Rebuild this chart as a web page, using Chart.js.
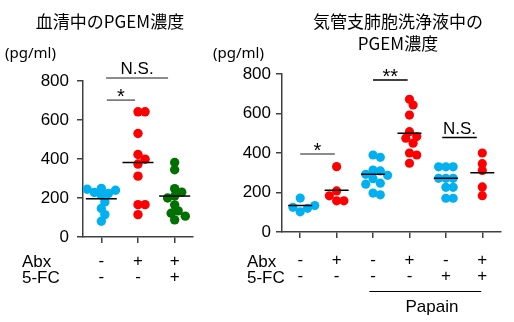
<!DOCTYPE html>
<html>
<head>
<meta charset="utf-8">
<script src="https://cdn.jsdelivr.net/npm/chart.js@4"></script>
<style>
body { margin: 0; background: #fff; width: 514px; height: 322px; position: relative; overflow: hidden; font-family: "Liberation Sans", Arial, sans-serif; }
canvas { position: absolute; top: 0; }
.t { position: absolute; white-space: nowrap; line-height: 1; color: #000; }
.jp { font-family: "Noto Sans CJK JP", sans-serif; font-size: 17px; }
.unit { font-family: "Noto Sans", sans-serif; font-size: 15px; }
.row { font-size: 17px; }
</style>
</head>
<body>
<canvas id="serum" width="210" height="322" style="left:0"></canvas>
<canvas id="balf" width="304" height="322" style="left:210px"></canvas>

<div class="t jp" style="left:0;width:220px;text-align:center;top:11.5px">血清中のPGEM濃度</div>
<div class="t jp" style="left:298px;width:200px;text-align:center;top:11.5px">気管支肺胞洗浄液中の</div>
<div class="t jp" style="left:298px;width:200px;text-align:center;top:33.5px">PGEM濃度</div>
<div class="t unit" style="left:5px;top:45px">(pg/ml)</div>
<div class="t unit" style="left:213px;top:45px">(pg/ml)</div>
<div class="t row" style="left:22px;top:252.5px">Abx</div>
<div class="t row" style="left:22px;top:268.5px">5-FC</div>
<div class="t row" style="left:247px;top:252.5px">Abx</div>
<div class="t row" style="left:247px;top:268.5px">5-FC</div>
<div class="t row" style="left:382px;width:100px;text-align:center;top:297.5px">Papain</div>

<script>
// serum PGEM (pg/ml)
const serumAbx = ['-', '+', '+'];
const serumFC = ['-', '-', '+'];
const serumValues = [
    [81, 115, 146, 180, 214, 223, 228, 240, 245, 249],
    [642, 642, 531, 423, 399, 374, 312, 166, 166, 115],
    [382, 345, 248, 230, 210, 200, 165, 134, 122, 107, 88]
];
const serumMeans = [196, 382, 210];
// [from, to, level, label]
const serumSig = [
    [0.15, 0.92, 702, '*'],
    [0.13, 1.82, 815, 'N.S.']
];

// BALF PGEM (pg/ml)
const balfAbx = ['-', '+', '-', '+', '-', '+'];
const balfFC = ['-', '-', '-', '-', '+', '+'];
const balfValues = [
    [102, 120, 125, 134, 172],
    [158, 158, 183, 208, 331],
    [390, 378, 314, 309, 292, 287, 270, 247, 242, 197, 188],
    [672, 643, 592, 508, 483, 475, 450, 400, 390, 348],
    [330, 330, 330, 272, 272, 272, 226, 226, 171, 171],
    [400, 346, 312, 228, 184]
];
const balfMeans = [134, 212, 292, 500, 272, 300];
const balfSig = [
    [0.0, 0.95, 395, '*'],
    [2.0, 2.95, 769, '**'],
    [3.9, 4.85, 478, 'N.S.']
];
const papainSpan = [1.9, 4.97];

const BLUE = '#00b0f0', RED = '#ff0000', GREEN = '#007000';
const AXIS = '#404040';

// simple beeswarm: horizontal offsets so dots don't pile up
function swarm(vals, yPx, catPx, r) {
    const placed = [];
    return vals.map(v => {
        const y = v * yPx;
        for (let k = 0; ; k++) {
            const dx = (k % 2 ? 1 : -1) * Math.ceil(k / 2) * r * 0.8;
            if (placed.every(p => Math.hypot(p[0] - dx, p[1] - y) >= r * 1.45)) {
                placed.push([dx, y]);
                return dx / catPx;
            }
        }
    });
}

function build(id, abx, fc, values, means, colors, sig, sigColors, o, extra) {
    const datasets = [{
        data: means.map((m, i) => ({ x: i, y: m })),
        pointStyle: 'line', pointRadius: o.meanHalf,
        pointBorderColor: '#000', pointBorderWidth: 1.5, pointBackgroundColor: '#000'
    }];
    values.forEach((vals, i) => {
        const off = swarm(vals, o.yPx, o.catPx, o.r);
        datasets.push({
            data: vals.map((v, j) => ({ x: i + off[j], y: v })),
            pointBackgroundColor: colors[i], pointBorderWidth: 0, pointRadius: o.r
        });
    });

    new Chart(document.getElementById(id), {
        type: 'scatter',
        data: { datasets },
        options: {
            responsive: false,
            animation: false,
            events: [],
            plugins: { legend: { display: false }, tooltip: { enabled: false } },
            layout: { padding: { top: o.top, right: o.right, left: 0, bottom: 0 } },
            scales: {
                x: {
                    type: 'linear', min: -0.5, max: abx.length - 0.5,
                    afterBuildTicks: s => { s.ticks = abx.map((_, i) => ({ value: i })); },
                    afterFit: s => { s.height = o.xh; },
                    ticks: {
                        callback: v => [abx[v], fc[v]],
                        font: { family: 'Liberation Sans', size: 17, lineHeight: '16px' },
                        color: '#000', padding: o.xpad, maxRotation: 0, autoSkip: false
                    },
                    grid: { drawOnChartArea: false, tickLength: 6, color: AXIS, lineWidth: 1.5 },
                    border: { color: AXIS, width: 1.5 }
                },
                y: {
                    min: 0, max: 800,
                    afterFit: s => { s.width = o.yw; },
                    ticks: { stepSize: 200, font: { family: 'Liberation Sans', size: 17 }, color: '#000', padding: o.ypad },
                    grid: { drawOnChartArea: false, tickLength: 6, color: AXIS, lineWidth: 1.5 },
                    border: { color: AXIS, width: 1.5 }
                }
            }
        },
        plugins: [{
            id: 'sig',
            afterDraw(chart) {
                const { ctx, scales: { x, y } } = chart;
                ctx.save();
                sig.forEach(([a, b, lv, label], i) => {
                    const x1 = x.getPixelForValue(a), x2 = x.getPixelForValue(b);
                    const yy = y.getPixelForValue(lv);
                    ctx.strokeStyle = sigColors[i];
                    ctx.lineWidth = 1.5;
                    ctx.beginPath();
                    ctx.moveTo(x1, yy);
                    ctx.lineTo(x2, yy);
                    ctx.stroke();
                    ctx.fillStyle = '#000';
                    ctx.textAlign = 'center';
                    ctx.textBaseline = 'alphabetic';
                    if (label.startsWith('*')) {
                        ctx.font = '20px "Liberation Sans"';
                        ctx.fillText(label, (x1 + x2) / 2, yy + 3);
                    } else {
                        ctx.font = '17px "Liberation Sans"';
                        ctx.fillText(label, (x1 + x2) / 2, yy - 4);
                    }
                });
                if (extra) extra(chart);
                ctx.restore();
            }
        }]
    });
}

build('serum', serumAbx, serumFC, serumValues, serumMeans,
    [BLUE, RED, GREEN], serumSig, ['#666', '#666'],
    { top: 81, right: 10, yw: 83, xh: 85, xpad: 10, ypad: 8, yPx: 0.195, catPx: 39, r: 4.7, meanHalf: 15.5 });

build('balf', balfAbx, balfFC, balfValues, balfMeans,
    [BLUE, RED, BLUE, RED, BLUE, RED], balfSig, ['#666', '#000', '#000'],
    { top: 74, right: 11, yw: 72, xh: 90, xpad: 14.5, ypad: 5, yPx: 0.198, catPx: 36.8, r: 4.6, meanHalf: 12 },
    chart => {
        const { ctx, scales: { x }, chartArea } = chart;
        const yy = chartArea.bottom + 59.5;
        ctx.strokeStyle = '#000';
        ctx.lineWidth = 1;
        ctx.beginPath();
        ctx.moveTo(x.getPixelForValue(papainSpan[0]), yy);
        ctx.lineTo(x.getPixelForValue(papainSpan[1]), yy);
        ctx.stroke();
    });
</script>
</body>
</html>
